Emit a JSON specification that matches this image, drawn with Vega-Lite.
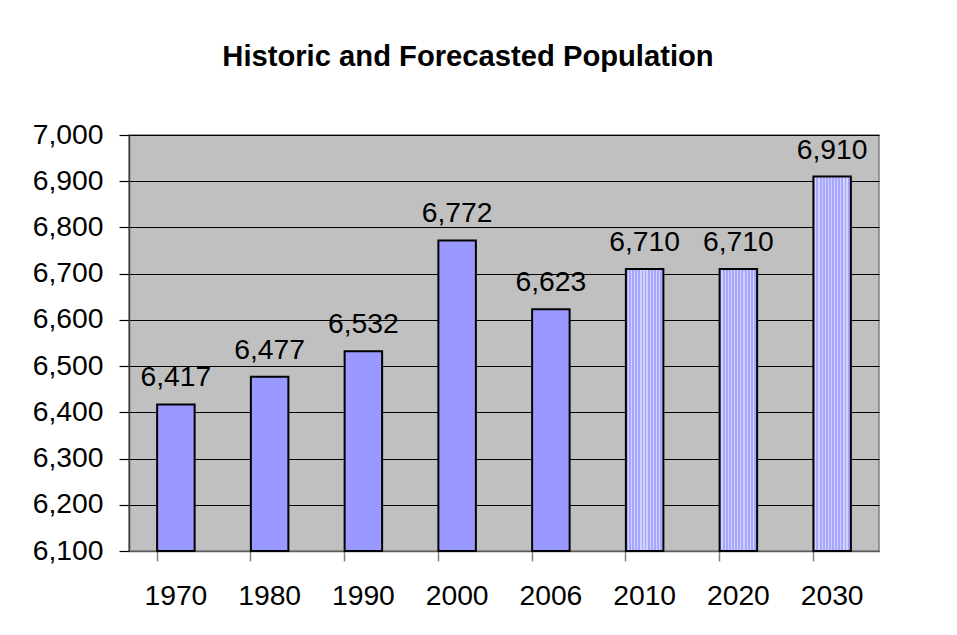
{
  "$schema": "https://vega.github.io/schema/vega-lite/v6.json",
  "width": 750,
  "height": 416,
  "autosize": "none",
  "padding": {"left": 129, "top": 135, "right": 78, "bottom": 84},
  "background": "white",
  "title": {
    "text": "Historic and Forecasted Population",
    "font": "Liberation Sans",
    "fontSize": 29.2,
    "fontWeight": "bold",
    "color": "black",
    "anchor": "middle",
    "baseline": "alphabetic",
    "offset": 25,
    "dx": -36
  },
  "config": {
    "font": "Liberation Sans",
    "view": {"fill": "#c0c0c0", "stroke": "#808080", "strokeWidth": 1.5}
  },
  "data": {
    "values": [
      {"year": "1970", "population": 6417, "kind": "Historic"},
      {"year": "1980", "population": 6477, "kind": "Historic"},
      {"year": "1990", "population": 6532, "kind": "Historic"},
      {"year": "2000", "population": 6772, "kind": "Historic"},
      {"year": "2006", "population": 6623, "kind": "Historic"},
      {"year": "2010", "population": 6710, "kind": "Forecast"},
      {"year": "2020", "population": 6710, "kind": "Forecast"},
      {"year": "2030", "population": 6910, "kind": "Forecast"}
    ]
  },
  "encoding": {
    "x": {
      "field": "year",
      "type": "ordinal",
      "sort": null,
      "scale": {"paddingInner": 0.6, "paddingOuter": 0.3},
      "axis": {
        "title": null,
        "labelAngle": 0,
        "labelFont": "Liberation Sans",
        "labelFontSize": 28.3,
        "labelColor": "black",
        "labelPadding": 21,
        "bandPosition": 0,
        "tickSize": 10,
        "tickColor": "#808080",
        "tickWidth": 1.5,
        "domainColor": "#606060",
        "domainWidth": 1.5,
        "grid": false
      }
    },
    "y": {
      "field": "population",
      "type": "quantitative",
      "scale": {"domain": [6100, 7000], "zero": false, "nice": false},
      "axis": {
        "title": null,
        "values": [6100, 6200, 6300, 6400, 6500, 6600, 6700, 6800, 6900, 7000],
        "format": ",d",
        "labelFont": "Liberation Sans",
        "labelFontSize": 28.3,
        "labelColor": "black",
        "labelPadding": 16,
        "tickSize": 10,
        "tickColor": "black",
        "tickWidth": 1.2,
        "domainColor": "#404040",
        "domainWidth": 1.5,
        "grid": true,
        "gridColor": "black",
        "gridWidth": 1.2,
        "gridOpacity": 1
      }
    }
  },
  "layer": [
    {
      "transform": [{"filter": "datum.kind === 'Historic'"}],
      "mark": {"type": "bar", "fill": "#9999ff", "stroke": "black", "strokeWidth": 2},
      "encoding": {"y2": {"datum": 6100}}
    },
    {
      "transform": [{"filter": "datum.kind === 'Forecast'"}],
      "mark": {
        "type": "bar",
        "stroke": "black",
        "strokeWidth": 2,
        "fill": {
          "gradient": "linear",
          "x1": 0, "y1": 0, "x2": 1, "y2": 0,
          "stops": [
            {"offset": 0.000, "color": "#a6a6ff"}, {"offset": 0.050, "color": "#a6a6ff"}, {"offset": 0.050, "color": "#d2d2ff"}, {"offset": 0.083, "color": "#d2d2ff"},
            {"offset": 0.083, "color": "#a6a6ff"}, {"offset": 0.133, "color": "#a6a6ff"}, {"offset": 0.133, "color": "#d2d2ff"}, {"offset": 0.167, "color": "#d2d2ff"},
            {"offset": 0.167, "color": "#a6a6ff"}, {"offset": 0.217, "color": "#a6a6ff"}, {"offset": 0.217, "color": "#d2d2ff"}, {"offset": 0.250, "color": "#d2d2ff"},
            {"offset": 0.250, "color": "#a6a6ff"}, {"offset": 0.300, "color": "#a6a6ff"}, {"offset": 0.300, "color": "#d2d2ff"}, {"offset": 0.333, "color": "#d2d2ff"},
            {"offset": 0.333, "color": "#a6a6ff"}, {"offset": 0.383, "color": "#a6a6ff"}, {"offset": 0.383, "color": "#d2d2ff"}, {"offset": 0.417, "color": "#d2d2ff"},
            {"offset": 0.417, "color": "#a6a6ff"}, {"offset": 0.467, "color": "#a6a6ff"}, {"offset": 0.467, "color": "#d2d2ff"}, {"offset": 0.500, "color": "#d2d2ff"},
            {"offset": 0.500, "color": "#a6a6ff"}, {"offset": 0.550, "color": "#a6a6ff"}, {"offset": 0.550, "color": "#d2d2ff"}, {"offset": 0.583, "color": "#d2d2ff"},
            {"offset": 0.583, "color": "#a6a6ff"}, {"offset": 0.633, "color": "#a6a6ff"}, {"offset": 0.633, "color": "#d2d2ff"}, {"offset": 0.667, "color": "#d2d2ff"},
            {"offset": 0.667, "color": "#a6a6ff"}, {"offset": 0.717, "color": "#a6a6ff"}, {"offset": 0.717, "color": "#d2d2ff"}, {"offset": 0.750, "color": "#d2d2ff"},
            {"offset": 0.750, "color": "#a6a6ff"}, {"offset": 0.800, "color": "#a6a6ff"}, {"offset": 0.800, "color": "#d2d2ff"}, {"offset": 0.833, "color": "#d2d2ff"},
            {"offset": 0.833, "color": "#a6a6ff"}, {"offset": 0.883, "color": "#a6a6ff"}, {"offset": 0.883, "color": "#d2d2ff"}, {"offset": 0.917, "color": "#d2d2ff"},
            {"offset": 0.917, "color": "#a6a6ff"}, {"offset": 0.967, "color": "#a6a6ff"}, {"offset": 0.967, "color": "#d2d2ff"}, {"offset": 1.000, "color": "#d2d2ff"}
          ]
        }
      },
      "encoding": {"y2": {"datum": 6100}}
    },
    {
      "mark": {
        "type": "text",
        "font": "Liberation Sans",
        "fontSize": 28.3,
        "color": "black",
        "baseline": "alphabetic",
        "align": "center",
        "dy": -18
      },
      "encoding": {
        "text": {"field": "population", "type": "quantitative", "format": ",d"}
      }
    }
  ]
}
